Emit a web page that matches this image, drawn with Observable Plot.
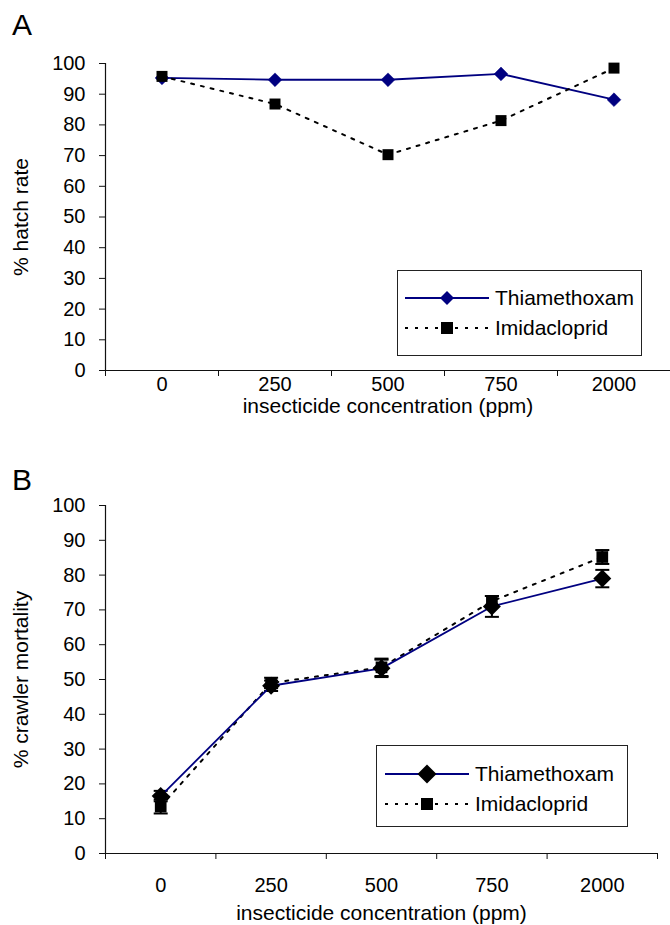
<!DOCTYPE html>
<html>
<head>
<meta charset="utf-8">
<script src="https://cdn.jsdelivr.net/npm/d3@7"></script>
<script src="https://cdn.jsdelivr.net/npm/@observablehq/plot@0.6"></script>
<style>
  body { margin: 0; background: #fff; }
  #wrap { position: relative; width: 670px; height: 925px; font-family: "Liberation Sans", Arial, sans-serif; color: #000; }
  .panel { position: absolute; font-size: 30px; line-height: 1; z-index: 3; }
  .chart { position: absolute; left: 0; z-index: 1; }
  .legend { position: absolute; border: 1.5px solid #222; background: #fff; box-sizing: border-box; font-size: 21px; z-index: 2; }
  .legend .row { position: absolute; left: 0; display: flex; align-items: center; height: 24px; }
  .legend svg { display: block; }
</style>
</head>
<body>
<div id="wrap">
  <div class="chart" id="chartA" style="top:40px"></div>
  <div class="chart" id="chartB" style="top:470px"></div>
  <div class="panel" style="left:12px;top:10px">A</div>
  <div class="panel" style="left:12px;top:465px">B</div>
</div>
<script>
// ---- data ----
const categories = ["0", "250", "500", "750", "2000"];
const seriesNames = ["Thiamethoxam", "Imidacloprid"];

// Panel A: % hatch rate
const hatchThiamethoxam = [95.3, 94.7, 94.7, 96.6, 88.2];
const hatchImidacloprid = [95.8, 86.8, 70.3, 81.4, 98.5];

// Panel B: % crawler mortality (mean and error)
const mortThiamethoxam = [16.5, 48.2, 53.2, 71.0, 79.0];
const mortThiamethoxamErr = [1.5, 1.5, 2.5, 3.0, 2.5];
const mortImidacloprid = [13.5, 49.0, 53.5, 72.5, 85.2];
const mortImidaclopridErr = [2.0, 1.5, 2.5, 1.5, 2.0];

const yTicks = [0, 10, 20, 30, 40, 50, 60, 70, 80, 90, 100];

// ---- styles ----
const navy = "#000080";
const dotDash = "3,7";
const font = '"Liberation Sans", Arial, sans-serif';

function table(vals, errs) {
  return vals.map((v, i) => ({x: i + 0.5, cat: categories[i], y: v, e: errs ? errs[i] : 0}));
}
const boundaries = d3.range(categories.length + 1);
const centres = categories.map((c, i) => i + 0.5);

const capSymbol = {
  draw(ctx, size) {
    const w = Math.sqrt(size);
    ctx.moveTo(-w / 2, 0);
    ctx.lineTo(w / 2, 0);
  }
};
const capR = 14 / Math.sqrt(Math.PI);

function axes(opts) {
  return [
    Plot.ruleX([0], {stroke: "#111", strokeWidth: 1.2}),
    Plot.ruleY([0], {stroke: "#111", strokeWidth: 1.2}),
    Plot.axisY({ticks: yTicks, tickSize: 6, tickPadding: opts.yPad, stroke: "#111", label: null, fontSize: 20}),
    Plot.axisY({ticks: yTicks, tickSize: 0, tickFormat: () => "", label: opts.yLabel,
      labelAnchor: "center", labelArrow: "none", labelOffset: opts.yLabelOffset, fontSize: 21}),
    Plot.axisX({ticks: opts.boundaryTicks, tickSize: 6, tickFormat: () => "", stroke: "#111", label: null}),
    Plot.axisX({ticks: centres, tickSize: 0, tickPadding: opts.xPad, tickFormat: v => categories[Math.round(v - 0.5)],
      label: null, fontSize: 20}),
    Plot.axisX({ticks: centres, tickSize: 0, tickFormat: () => "",
      label: "insecticide concentration (ppm)", labelAnchor: "center", labelArrow: "none",
      labelOffset: opts.xLabelOffset, fontSize: 21})
  ];
}

// ---- Panel A ----
const dataAT = table(hatchThiamethoxam);
const dataAI = table(hatchImidacloprid);
const chartA = Plot.plot({
  width: 670, height: 380,
  marginTop: 23, marginBottom: 50, marginLeft: 105, marginRight: 0,
  style: {fontSize: "20px", fontFamily: font, color: "#000", background: "#fff"},
  x: {type: "linear", domain: [0, categories.length]},
  y: {domain: [0, 100]},
  marks: [
    ...axes({yPad: 14, yLabel: "% hatch rate", yLabelOffset: 92, boundaryTicks: boundaries.slice(0, -1), xPad: 6, xLabelOffset: 42}),
    Plot.line(dataAT, {x: "x", y: "y", stroke: navy, strokeWidth: 1.8}),
    Plot.dot(dataAT, {x: "x", y: "y", symbol: "diamond2", r: 6.2, fill: navy, stroke: navy, strokeWidth: 0.5}),
    Plot.line(dataAI, {x: "x", y: "y", stroke: "#000", strokeWidth: 2, strokeDasharray: dotDash}),
    Plot.dot(dataAI, {x: "x", y: "y", symbol: "square", r: 6.2, fill: "#000"})
  ]
});
document.getElementById("chartA").append(chartA);

// ---- Panel B ----
const dataBT = table(mortThiamethoxam, mortThiamethoxamErr);
const dataBI = table(mortImidacloprid, mortImidaclopridErr);
function errorBars(data) {
  return [
    Plot.ruleX(data, {x: "x", y1: d => d.y - d.e, y2: d => d.y + d.e, stroke: "#000", strokeWidth: 2}),
    Plot.dot(data, {x: "x", y: d => d.y + d.e, symbol: capSymbol, r: capR, stroke: "#000", fill: "none", strokeWidth: 2}),
    Plot.dot(data, {x: "x", y: d => d.y - d.e, symbol: capSymbol, r: capR, stroke: "#000", fill: "none", strokeWidth: 2})
  ];
}
const chartB = Plot.plot({
  width: 670, height: 455,
  marginTop: 35, marginBottom: 72, marginLeft: 105, marginRight: 13,
  style: {fontSize: "20px", fontFamily: font, color: "#000", background: "#fff"},
  x: {type: "linear", domain: [0, categories.length]},
  y: {domain: [0, 100]},
  marks: [
    ...axes({yPad: 14, yLabel: "% crawler mortality", yLabelOffset: 92, boundaryTicks: boundaries, xPad: 24, xLabelOffset: 66}),
    ...errorBars(dataBI),
    ...errorBars(dataBT),
    Plot.line(dataBI, {x: "x", y: "y", stroke: "#000", strokeWidth: 2, strokeDasharray: dotDash}),
    Plot.line(dataBT, {x: "x", y: "y", stroke: navy, strokeWidth: 1.8}),
    Plot.dot(dataBI, {x: "x", y: "y", symbol: "square", r: 6.6, fill: "#000"}),
    Plot.dot(dataBT, {x: "x", y: "y", symbol: "diamond2", r: 8.1, fill: "#000"})
  ]
});
document.getElementById("chartB").append(chartB);

// ---- legends ----
function sampleSvg(kind, diamondColor, diamondHalf) {
  const w = 84, h = 24, cx = 42, cy = 12;
  let s = `<svg width="${w}" height="${h}" viewBox="0 0 ${w} ${h}">`;
  if (kind === 0) {
    s += `<line x1="0" x2="${w}" y1="${cy}" y2="${cy}" stroke="${navy}" stroke-width="1.8"/>`;
    s += `<path d="M${cx},${cy - diamondHalf}L${cx + diamondHalf},${cy}L${cx},${cy + diamondHalf}L${cx - diamondHalf},${cy}Z" fill="${diamondColor}"/>`;
  } else {
    s += `<line x1="0" x2="${w}" y1="${cy}" y2="${cy}" stroke="#000" stroke-width="2" stroke-dasharray="${dotDash}"/>`;
    s += `<rect x="${cx - 6}" y="${cy - 6}" width="12" height="12" fill="#000"/>`;
  }
  return s + "</svg>";
}
function legend(left, top, width, height, padLeft, rowTops, textGap, diamondColor, diamondHalf) {
  const div = document.createElement("div");
  div.className = "legend";
  Object.assign(div.style, {left: left + "px", top: top + "px", width: width + "px", height: height + "px"});
  seriesNames.forEach((name, i) => {
    const row = document.createElement("div");
    row.className = "row";
    row.style.top = rowTops[i] + "px";
    row.style.left = padLeft + "px";
    row.innerHTML = sampleSvg(i, diamondColor, diamondHalf) + `<span style="margin-left:${textGap}px">${name}</span>`;
    div.append(row);
  });
  document.getElementById("wrap").append(div);
}
legend(397, 270, 245, 86, 7, [15, 45], 6, navy, 7);
legend(376, 745, 252, 82, 8, [16, 46], 6, "#000", 9.5);
</script>
</body>
</html>
